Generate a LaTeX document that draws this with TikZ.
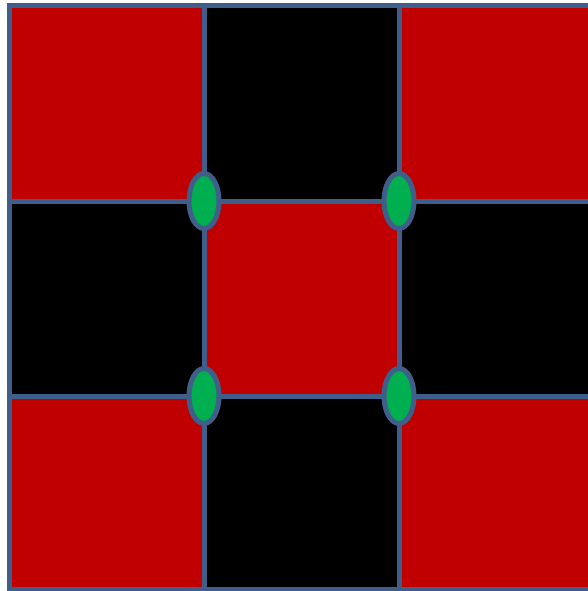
\documentclass[tikz,border=0pt]{standalone}
\usetikzlibrary{shapes.geometric}
\definecolor{cellred}{HTML}{C00000}
\definecolor{gridblue}{HTML}{3F5F8A}
\definecolor{dotgreen}{HTML}{00B050}
\begin{document}
\begin{tikzpicture}[x=1pt,y=-1pt,
  gridline/.style={draw=gridblue,line width=5pt},
  joint/.style={ellipse,draw=gridblue,line width=5pt,fill=dotgreen,minimum width=30pt,minimum height=55pt,inner sep=0pt}]
\useasboundingbox (0,0) rectangle (588,591);
\begin{scope}
\clip (0,0) rectangle (588,591);
% cells
\fill[cellred] (9.5,5.5) rectangle (204,201);
\fill[black] (204,5.5) rectangle (399,201);
\fill[cellred] (399,5.5) rectangle (600,201);
\fill[black] (9.5,201) rectangle (204,396);
\fill[cellred] (204,201) rectangle (399,396);
\fill[black] (399,201) rectangle (600,396);
\fill[cellred] (9.5,396) rectangle (204,589.5);
\fill[black] (204,396) rectangle (399,589.5);
\fill[cellred] (399,396) rectangle (600,589.5);
% grid lines
\draw[gridline] (9.5,5.5) -- (600,5.5);
\draw[gridline] (9.5,201) -- (600,201);
\draw[gridline] (9.5,396) -- (600,396);
\draw[gridline] (9.5,589.5) -- (600,589.5);
\draw[gridline] (9.5,3) -- (9.5,592);
\draw[gridline] (204,5.5) -- (204,589.5);
\draw[gridline] (399,5.5) -- (399,589.5);
\end{scope}
\node[joint] (j1) at (204,201) {};
\node[joint] (j2) at (399,201) {};
\node[joint] (j3) at (204,396) {};
\node[joint] (j4) at (399,396) {};
\end{tikzpicture}
\end{document}
